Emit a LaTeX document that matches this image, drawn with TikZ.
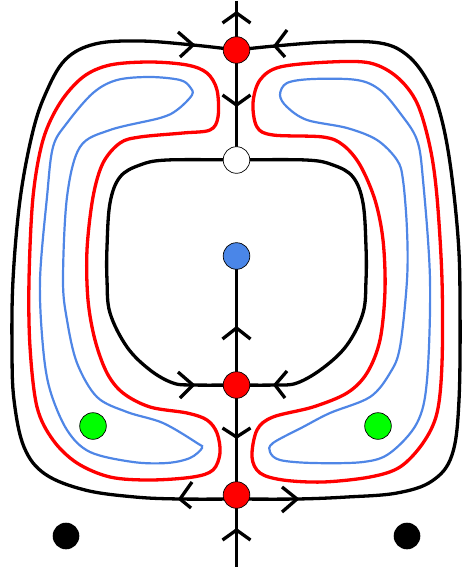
\documentclass[tikz,border=0pt]{standalone}
\usetikzlibrary{calc}
\definecolor{cblue}{HTML}{4F86E6}
\definecolor{cdot}{HTML}{4A86E8}
\tikzset{
  blk/.style={line width=3.3pt, black},
  redc/.style={line width=3.3pt, red},
  bluec/.style={line width=2.2pt, cblue},
  chev/.style={line width=3.3pt, black, line join=miter},
  dot/.style={circle, draw=black, line width=0.7pt, minimum size=26.6pt, inner sep=0pt},
  bdot/.style={circle, fill=black, minimum size=26.6pt, inner sep=0pt},
}
\begin{document}
\begin{tikzpicture}[x=1pt,y=-1pt]
\useasboundingbox (0,0) rectangle (462,567);
% positions
\coordinate (top) at (236.5,1);
\coordinate (bot) at (236.5,567);
\coordinate (pr1) at (236.5,50);
\coordinate (pw) at (236.5,160);
\coordinate (pb) at (236.5,256);
\coordinate (pr2) at (236.5,385);
\coordinate (pr3) at (236.5,495);
% axis
\draw[blk] (top) -- (pr1) -- (pw);
\draw[blk] (pb) -- (bot);
% outer black
\draw[blk] plot[smooth, tension=0.6] coordinates {(236.5,50) (193,45) (140,41) (95,44) (65,60) (45,95) (32,135) (20,200) (13,280) (12,350) (14,400) (24,447) (45,474) (85,490) (135,497) (180,499) (236.5,499)};
\draw[blk] plot[smooth, tension=0.6] coordinates {(236.5,50) (275,46) (330,42) (380,43) (407,55) (427,80) (440,113) (450,163) (458,237) (460,300) (459,400) (452,455) (432,481) (397,493) (347,497) (297,499) (236.5,499)};
% inner black
\draw[blk] plot[smooth, tension=0.6] coordinates {(236.5,160) (167,160) (140,165) (120,177) (110,203) (107,247) (107,280) (110,313) (127,347) (150,370) (173,383) (193,385) (236.5,385)};
\draw[blk] plot[smooth, tension=0.6] coordinates {(236.5,160) (306,160) (333,165) (353,177) (363,203) (366,247) (366,280) (363,313) (347,345) (323,368) (297,383) (275,385) (236.5,385)};
% red loops
\draw[redc] plot[smooth cycle, tension=0.55] coordinates {(150,62) (110,65) (83,77) (60,103) (43,140) (33,197) (29,280) (30,347) (37,407) (53,440) (77,463) (110,477) (150,480) (193,477) (213,470) (220,453) (217,433) (207,420) (187,413) (150,407) (123,393) (107,373) (95,340) (88,300) (87,250) (93,197) (103,163) (120,143) (140,137) (183,133) (210,130) (218,117) (217,90) (207,73) (187,65)};
\draw[redc] plot[smooth cycle, tension=0.55] coordinates {(330,62) (370,63) (397,77) (417,103) (430,147) (437,197) (442,280) (442,363) (437,413) (423,443) (400,467) (370,477) (323,482) (283,480) (260,473) (252,457) (257,430) (273,417) (313,407) (347,393) (367,373) (380,340) (385,290) (383,240) (375,200) (360,165) (343,145) (323,137) (273,135) (257,127) (253,103) (260,80) (280,67)};
% blue loops
\draw[bluec] plot[smooth cycle, tension=0.55] coordinates {(190,87) (180,80) (150,77) (117,80) (93,93) (67,123) (53,147) (47,197) (40,280) (43,347) (50,390) (67,430) (90,452) (133,462) (167,463) (190,458) (202,448) (197,443) (163,423) (127,412) (97,397) (77,363) (67,320) (63,280) (67,197) (80,147) (110,130) (160,118) (177,110) (192,95)};
\draw[bluec] plot[smooth cycle, tension=0.55] coordinates {(287,83) (313,79) (357,80) (380,90) (400,113) (417,140) (423,180) (430,280) (427,380) (417,423) (390,453) (363,462) (313,463) (280,460) (270,452) (273,443) (303,427) (330,413) (370,397) (390,373) (400,347) (407,280) (407,230) (403,180) (397,160) (377,140) (347,128) (307,120) (287,107) (280,95)};
% chevrons
\draw[chev] (222.5,23) -- (236.5,13) -- (250.5,23);
\draw[chev] (178,32) -- (193,45) -- (180,57);
\draw[chev] (287,30) -- (275,46) -- (285,57);
\draw[chev] (222.5,95) -- (236.5,105) -- (250.5,95);
\draw[chev] (222.5,339) -- (236.5,328) -- (250.5,339);
\draw[chev] (178,372) -- (193,385) -- (180,398);
\draw[chev] (287,371) -- (275,385) -- (285,398);
\draw[chev] (222.5,428) -- (236.5,437) -- (250.5,428);
\draw[chev] (192,482) -- (180,499) -- (191,508);
\draw[chev] (282,487) -- (297,499) -- (282,512);
\draw[chev] (222.5,540) -- (236.5,530) -- (250.5,540);
% dots
\node[dot, fill=red] (r1) at (pr1) {};
\node[dot, fill=white] (w) at (pw) {};
\node[dot, fill=cdot] (b) at (pb) {};
\node[dot, fill=red] (r2) at (pr2) {};
\node[dot, fill=red] (r3) at (pr3) {};
\node[dot, fill=green] (g1) at (93,426) {};
\node[dot, fill=green] (g2) at (378,426) {};
\node[bdot] (k1) at (66,536) {};
\node[bdot] (k2) at (407,536) {};
\end{tikzpicture}
\end{document}
